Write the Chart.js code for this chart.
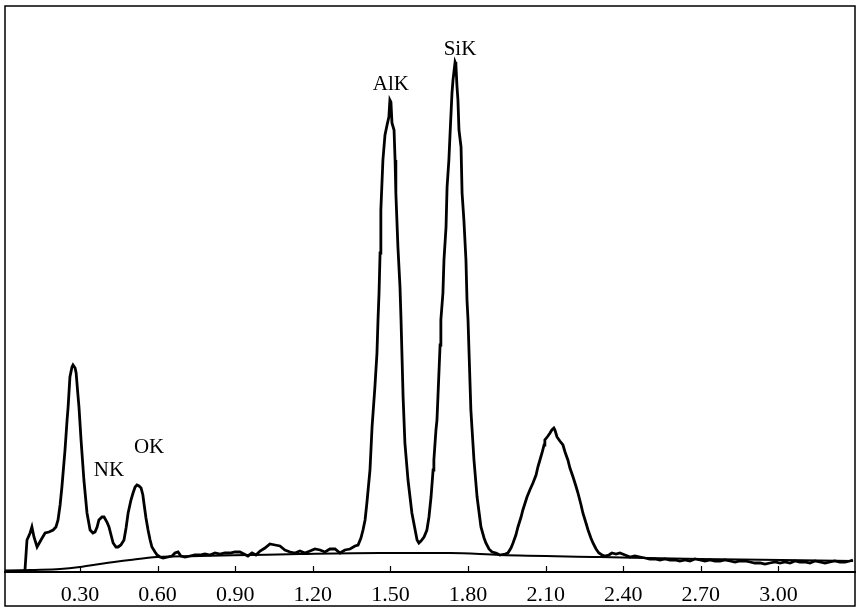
<!DOCTYPE html>
<html>
<head>
<meta charset="utf-8">
<script src="https://cdn.jsdelivr.net/npm/chart.js@4.4.0/dist/chart.umd.min.js"></script>
<style>
  body { margin: 0; background: #fff; }
  canvas { display: block; }
</style>
</head>
<body>
<canvas id="spectrum" width="858" height="612"></canvas>
<script>
// energy (keV) and intensity
const specE = [0.010, 0.049, 0.087, 0.095, 0.107, 0.114, 0.122, 0.134, 0.149, 0.165, 0.180, 0.196, 0.207, 0.215, 0.223, 0.230, 0.242, 0.250, 0.254, 0.261,
  0.269, 0.273, 0.281, 0.285, 0.292, 0.296, 0.304, 0.315, 0.327, 0.339, 0.350, 0.358, 0.366, 0.373, 0.385, 0.393, 0.404, 0.412, 0.420, 0.428,
  0.439, 0.447, 0.458, 0.470, 0.478, 0.486, 0.497, 0.505, 0.513, 0.520, 0.528, 0.536, 0.543, 0.547, 0.555, 0.563, 0.571, 0.578, 0.590, 0.598,
  0.609, 0.621, 0.640, 0.656, 0.667, 0.679, 0.690, 0.706, 0.725, 0.744, 0.764, 0.783, 0.802, 0.822, 0.841, 0.860, 0.880, 0.899, 0.918, 0.934,
  0.949, 0.965, 0.980, 0.996, 1.015, 1.034, 1.054, 1.073, 1.092, 1.112, 1.131, 1.150, 1.170, 1.189, 1.208, 1.228, 1.247, 1.266, 1.286, 1.305,
  1.324, 1.344, 1.363, 1.375, 1.386, 1.394, 1.402, 1.409, 1.421, 1.429, 1.440, 1.448, 1.452, 1.456, 1.460, 1.463, 1.471, 1.479, 1.487, 1.494,
  1.498, 1.502, 1.506, 1.514, 1.518, 1.521, 1.529, 1.537, 1.541, 1.549, 1.556, 1.568, 1.583, 1.603, 1.610, 1.618, 1.630, 1.641, 1.649, 1.657,
  1.665, 1.668, 1.676, 1.680, 1.684, 1.688, 1.692, 1.695, 1.703, 1.707, 1.715, 1.719, 1.726, 1.730, 1.738, 1.742, 1.750, 1.753, 1.757, 1.761,
  1.765, 1.773, 1.777, 1.784, 1.792, 1.796, 1.800, 1.804, 1.811, 1.823, 1.835, 1.850, 1.862, 1.869, 1.881, 1.893, 1.908, 1.923, 1.943, 1.954,
  1.966, 1.974, 1.985, 1.993, 2.005, 2.012, 2.028, 2.039, 2.051, 2.063, 2.070, 2.078, 2.086, 2.094, 2.097, 2.109, 2.117, 2.124, 2.132, 2.136,
  2.144, 2.155, 2.167, 2.175, 2.186, 2.194, 2.206, 2.217, 2.225, 2.237, 2.244, 2.256, 2.264, 2.275, 2.283, 2.295, 2.306, 2.318, 2.329, 2.345,
  2.356, 2.372, 2.387, 2.407, 2.426, 2.445, 2.465, 2.484, 2.503, 2.523, 2.542, 2.561, 2.581, 2.600, 2.619, 2.639, 2.658, 2.677, 2.697, 2.716,
  2.735, 2.755, 2.774, 2.793, 2.813, 2.832, 2.851, 2.871, 2.890, 2.909, 2.929, 2.948, 2.967, 2.987, 3.006, 3.025, 3.045, 3.064, 3.083, 3.102,
  3.122, 3.141, 3.160, 3.180, 3.199, 3.218, 3.238, 3.257, 3.276, 3.288];
const specI = [1, 1, 1, 32, 39, 45, 35, 25, 32, 39, 40, 42, 45, 52, 67, 85, 122, 152, 165, 195,
  205, 207, 204, 199, 177, 165, 132, 92, 59, 42, 39, 40, 45, 52, 55, 55, 50, 45, 37, 29,
  25, 25, 27, 32, 44, 59, 72, 79, 85, 87, 86, 84, 77, 69, 54, 42, 32, 25, 20, 17,
  15, 14, 15, 16, 19, 20, 16, 15, 16, 17, 17, 18, 17, 19, 18, 19, 19, 20, 20, 18,
  16, 19, 17, 21, 24, 28, 27, 26, 22, 20, 19, 21, 19, 21, 23, 22, 20, 23, 23, 19,
  22, 23, 26, 27, 34, 42, 52, 69, 102, 145, 185, 219, 252, 279, 319, 362, 412, 437, 447, 455,
  472, 470, 449, 442, 412, 379, 325, 285, 252, 175, 129, 92, 59, 32, 29, 31, 35, 42, 55, 75,
  102, 112, 142, 152, 177, 202, 227, 252, 279, 312, 345, 385, 412, 435, 479, 492, 510, 508, 487, 472,
  442, 425, 379, 352, 312, 272, 252, 219, 162, 112, 75, 45, 34, 29, 23, 20, 19, 17, 18, 19,
  24, 29, 37, 45, 55, 62, 75, 82, 89, 97, 105, 112, 119, 127, 132, 136, 139, 142, 144, 142,
  135, 131, 127, 120, 112, 104, 95, 86, 79, 67, 59, 49, 42, 34, 29, 23, 19, 17, 16, 17,
  19, 18, 19, 17, 15, 16, 15, 14, 13, 13, 12, 13, 12, 12, 11, 12, 11, 13, 12, 11,
  12, 11, 11, 12, 11, 10, 11, 11, 10, 9, 9, 8, 9, 10, 9, 10, 9, 11, 10, 10,
  9, 11, 10, 9, 10, 11, 10, 10, 11, 12];

// smooth background (continuum) curve
const bgE = [0.010, 0.107, 0.223, 0.300, 0.377, 0.493, 0.598, 0.764, 0.957, 1.150, 1.460, 1.730, 1.923, 2.310, 2.697, 3.288];
const bgI = [1, 2, 3, 5, 8, 12, 15, 16, 17, 18, 19, 19, 17, 15, 13, 11];

const tickValues = [0.30, 0.60, 0.90, 1.20, 1.50, 1.80, 2.10, 2.40, 2.70, 3.00];

const peakNames = ['NK', 'OK', 'AlK', 'SiK'];
const peakE = [0.412, 0.567, 1.502, 1.769];
const peakI = [102, 125, 488, 523];

function toPoints(xs, ys) {
    return xs.map((x, i) => ({ x: x, y: ys[i] }));
}

const extras = {
    id: 'extras',
    afterDraw(chart) {
        const ctx = chart.ctx;
        const xs = chart.scales.x;
        const ys = chart.scales.y;
        const bottom = chart.chartArea.bottom;
        ctx.save();
        // ticks pointing up into the plot
        ctx.strokeStyle = '#000';
        ctx.lineWidth = 1.2;
        tickValues.forEach(v => {
            const px = Math.round(xs.getPixelForValue(v)) + 0.5;
            ctx.beginPath();
            ctx.moveTo(px, bottom);
            ctx.lineTo(px, bottom - 6);
            ctx.stroke();
        });
        // outer frame
        ctx.lineWidth = 1.5;
        ctx.strokeRect(5, 6, 850, 600);
        // peak names
        ctx.fillStyle = '#000';
        ctx.font = '21px "Liberation Serif", "DejaVu Serif", serif';
        ctx.textAlign = 'center';
        ctx.textBaseline = 'middle';
        peakNames.forEach((name, i) => {
            ctx.fillText(name, xs.getPixelForValue(peakE[i]), ys.getPixelForValue(peakI[i]));
        });
        ctx.restore();
    }
};

const ctx = document.getElementById('spectrum').getContext('2d');
new Chart(ctx, {
    type: 'line',
    data: {
        datasets: [{
            data: toPoints(specE, specI),
            borderColor: '#000',
            borderWidth: 2.8,
            pointRadius: 0,
            tension: 0,
            fill: false
        }, {
            data: toPoints(bgE, bgI),
            borderColor: '#000',
            borderWidth: 2,
            pointRadius: 0,
            tension: 0.4,
            cubicInterpolationMode: 'monotone',
            fill: false
        }]
    },
    options: {
        responsive: false,
        animation: false,
        events: [],
        layout: { padding: { left: 5, right: 3, top: 8, bottom: 0 } },
        plugins: {
            legend: { display: false },
            tooltip: { enabled: false },
            title: { display: false }
        },
        scales: {
            x: {
                type: 'linear',
                min: 0.010,
                max: 3.296,
                grid: { display: false },
                border: { display: true, color: '#000', width: 2 },
                afterBuildTicks: scale => {
                    scale.ticks = tickValues.map(v => ({ value: v }));
                },
                afterFit: scale => {
                    scale.height = 40;
                },
                ticks: {
                    color: '#000',
                    padding: 2,
                    maxRotation: 0,
                    autoSkip: false,
                    font: { family: '"Liberation Serif", "DejaVu Serif", serif', size: 22 },
                    callback: v => Number(v).toFixed(2)
                }
            },
            y: {
                display: false,
                min: 0,
                max: 564
            }
        }
    },
    plugins: [extras]
});
</script>
</body>
</html>
